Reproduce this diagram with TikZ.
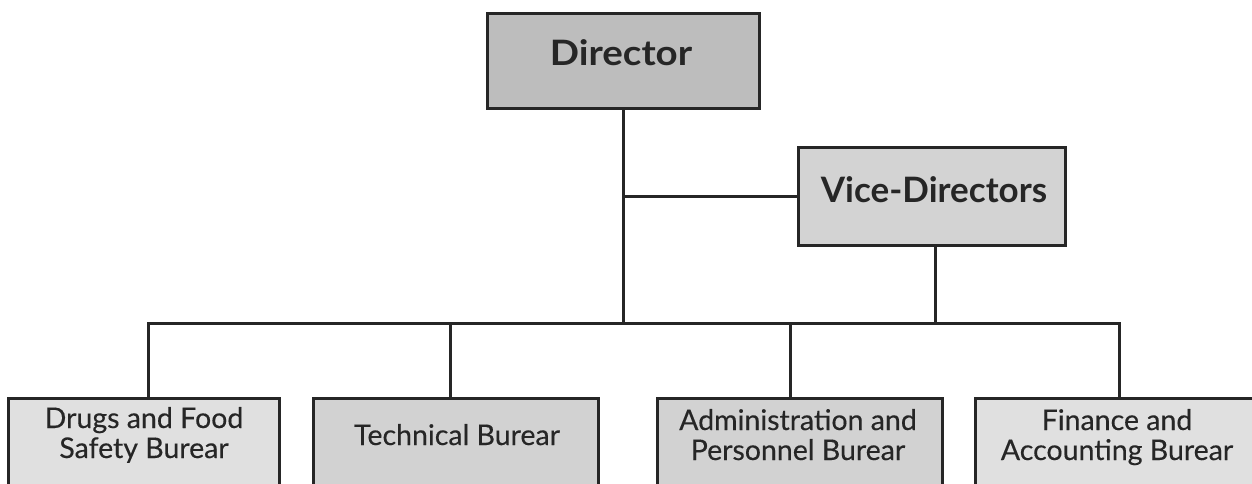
\documentclass[tikz,border=0pt]{standalone}
\usepackage{fontspec}
\setmainfont{Lato}
\newfontfamily\widefont[FakeStretch=1.1]{Lato}
\newfontfamily\lblfont[FakeBold=0.3]{Lato}
\definecolor{linecol}{HTML}{262626}
\definecolor{dircol}{HTML}{BDBDBD}
\definecolor{vdcol}{HTML}{D3D3D3}
\definecolor{lightcol}{HTML}{E0E0E0}
\definecolor{midcol}{HTML}{D2D2D2}
\begin{document}
\begin{tikzpicture}[x=1pt,y=-1pt,
  box/.style={draw=linecol, line width=3pt, rectangle, inner sep=0pt, outer sep=0pt},
  conn/.style={draw=linecol, line width=3pt, line cap=rect},
  big/.style={font=\fontsize{35}{37}\selectfont\bfseries, text=linecol, inner sep=0pt},
  lbl/.style={font=\lblfont\fontsize{28.5}{30}\selectfont, text=linecol, inner sep=0pt, align=center}]
\useasboundingbox (0,0) rectangle (1252,483);
\clip (0,0) rectangle (1252,483);
\fill[white] (0,0) rectangle (1252,483);
% boxes
\node[box, fill=dircol, minimum width=272pt, minimum height=95pt] (dir) at (623,60.5) {};
\node[box, fill=vdcol, minimum width=267pt, minimum height=98pt] (vd) at (931.5,196) {};
\node[box, fill=lightcol, minimum width=271pt, minimum height=142pt] (b1) at (143.5,469) {};
\node[box, fill=midcol, minimum width=285pt, minimum height=142pt] (b2) at (455.5,469) {};
\node[box, fill=midcol, minimum width=285pt, minimum height=142pt] (b3) at (799.5,469) {};
\node[box, fill=lightcol, minimum width=315pt, minimum height=142pt] (b4) at (1132.5,469) {};
% texts (base anchor = baseline of last line)
\node[big, anchor=base, font=\widefont\fontsize{35}{37}\selectfont\bfseries] (tdir) at (621,65) {Director};
\node[big, anchor=base] (tvd) at (934,202) {Vice-Directors};
\node[lbl, anchor=base] (t1) at (144,458) {Drugs and Food\\Safety Burear};
\node[lbl, anchor=base] (t2) at (457,445) {Technical Burear};
\node[lbl, anchor=base] (t3) at (798,460) {Administration and\\Personnel Burear};
\node[lbl, anchor=base] (t4) at (1117,460) {Finance and\\Accounting Burear};
% connectors
\coordinate (j) at (dir.south |- 0,323);
\coordinate (s1) at (148,323);
\coordinate (s2) at (450,323);
\coordinate (s3) at (790,323);
\coordinate (s4) at (1119,323);
\coordinate (sv) at (935,323);
\draw[conn] (dir.south) -- (j);
\draw[conn] (dir.south |- vd.west) -- (vd.west);
\draw[conn] (sv |- vd.south) -- (sv);
\draw[conn] (s1) -- (s4);
\draw[conn] (s1) -- (s1 |- b1.north);
\draw[conn] (s2) -- (s2 |- b2.north);
\draw[conn] (s3) -- (s3 |- b3.north);
\draw[conn] (s4) -- (s4 |- b4.north);
\end{tikzpicture}
\end{document}
